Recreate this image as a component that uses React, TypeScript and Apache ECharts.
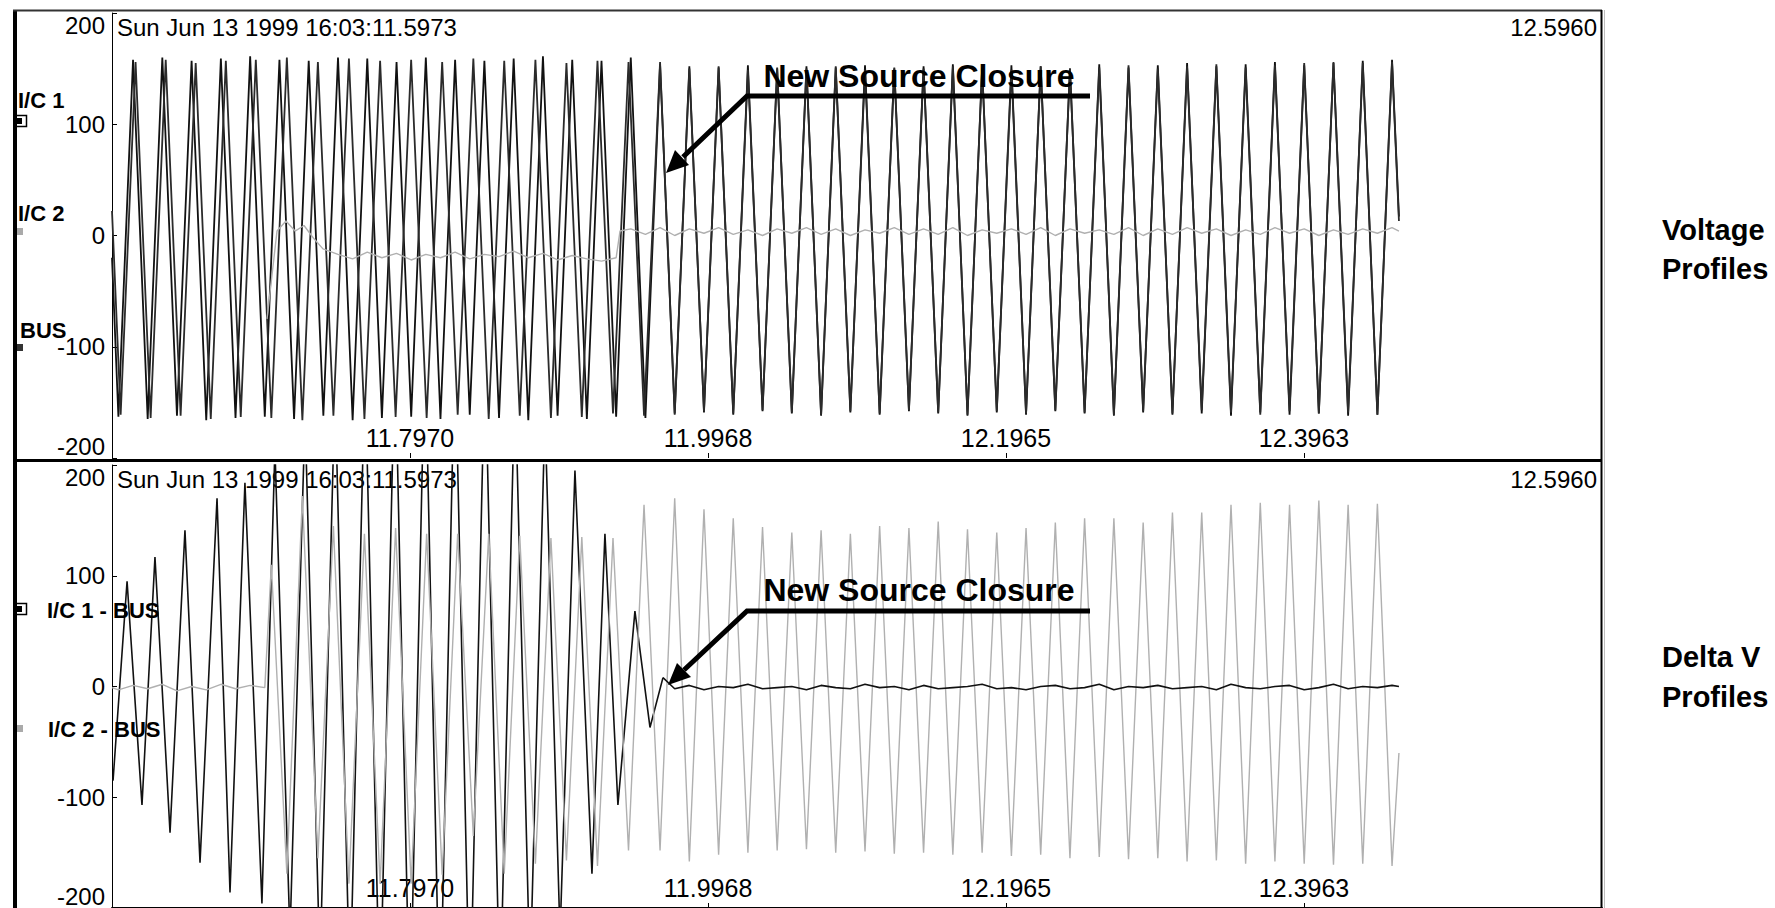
import React, { useEffect, useRef } from "react";
import * as echarts from "echarts";

// ---------- axis / labels ----------
const X_MIN = 11.5973;
const X_MAX = 12.596;
const END_TIME = 12.4599;
const xTickValues = [11.797, 11.9968, 12.1965, 12.3963];
const startStamp = "Sun Jun 13 1999 16:03:11.5973";
const endStamp = "12.5960";
const topLegend = ["I/C 1", "I/C 2", "BUS"];
const bottomLegend = ["I/C 1 - BUS", "I/C 2 - BUS"];
const annotation = "New Source Closure";

// ---------- sampled extrema ----------
// I/C 1 half-cycle extrema (trough first), regular source
const IC1_FIRST_EXTREMUM = 11.60159;
const IC1_HALF_PERIOD = 0.0098124;
const ic1Start = -20;
const ic1Values = [
  -163, 158, -165, 160, -162, 157, -166, 159, -164, 161, -163, 158, -165, 157, -162, 160, -166, 159, -164, 156,
  -163, 160, -165, 158, -161, 157, -164, 159, -166, 161, -162, 158, -165, 157, -163, 160, -164, 154, -160, 152,
  -159, 151, -161, 153, -158, 150, -160, 152, -162, 151, -159, 153, -161, 150, -158, 152, -160, 154, -162, 151,
  -159, 153, -161, 152, -158, 150, -160, 154, -162, 151, -159, 153, -161, 155, -160, 152, -162, 154, -159, 156,
  -161, 153, -160, 155, -162, 157, -161, 158,
];
const ic1End = 17;

// BUS before closure (slipping), extrema times
const busStart = 22;
const busPreTimes = [
  11.6031, 11.6131, 11.6232, 11.6333, 11.6433, 11.6534, 11.6635, 11.6736, 11.6836, 11.6937,
  11.7041, 11.7145, 11.7249, 11.7353, 11.7457, 11.7561, 11.7665, 11.777, 11.7874, 11.7978,
  11.8082, 11.8186, 11.829, 11.8395, 11.8498, 11.8602, 11.8706, 11.8811, 11.8915, 11.9019,
  11.9122, 11.9227, 11.9331, 11.9435, 11.9539,
];
const busPreValues = [
  -161, 156, -164, 158, -162, 155, -165, 157, -163, 158, -164, 160, -166, 156, -162, 159, -165, 157, -163, 158,
  -164, 156, -161, 159, -165, 157, -162, 158, -164, 155, -163, 157, -160, 156, -162,
];
// BUS after closure (locked to the I/C 1 extrema 37..87)
const busPostValues = [
  156, -161, 150, -158, 152, -160, 149, -157, 151, -159,
  150, -161, 152, -158, 149, -160, 151, -157, 150, -159,
  152, -161, 150, -158, 149, -160, 152, -157, 150, -159,
  151, -161, 153, -158, 150, -160, 152, -157, 154, -159,
  151, -161, 153, -158, 155, -160, 156, -159, 155, -161,
  156,
];
const busEnd = 13;

// I/C 2 (top panel) after it separates from the bus
const ic2SplitTimes = [11.7012, 11.7079, 11.7139, 11.72, 11.726, 11.7327, 11.7387];
const ic2SplitValues = [-75, 4, 13, 4, 9, -3, -12];
const ic2PreCloseValues = [-17, -21, -15, -20, -16, -22, -17, -20, -15, -21, -17, -19, -14, -20, -16, -22, -18, -21, -23, -20]; // extrema 15..34
const ic2JumpTime = 11.9378;
const ic2JumpValue = 4;
const ic2PostCloseValues = [
  6, 1, 7, 0, 6, 2, 7, 1, 5, 0,
  6, 2, 7, 1, 6, 0, 5, 2, 7, 1,
  6, 1, 7, 0, 5, 2, 6, 1, 7, 0,
  6, 2, 5, 1, 7, 0, 6, 1, 7, 2,
  6, 0, 5, 1, 7, 2, 6, 0, 5, 1,
  6, 2, 7,
]; // extrema 35..87
const ic2End = 4;

// I/C 1 - BUS (bottom panel)
const diff1PreTimes = [
  11.598, 11.6074, 11.6174, 11.6261, 11.6362, 11.6462, 11.6563, 11.6677, 11.6764, 11.6864,
  11.6978, 11.7065, 11.7166, 11.7267, 11.7367, 11.7468, 11.7568, 11.7669, 11.7769, 11.787,
  11.797, 11.8071, 11.8171, 11.8272, 11.8372, 11.8473, 11.8574, 11.8674, 11.8775, 11.8875,
  11.8976, 11.9076, 11.919, 11.9277, 11.9364, 11.9478, 11.9579, 11.9666,
];
const diff1PreValues = [
  -85, 95, -107, 117, -132, 141, -159, 170, -186, 184,
  -196, 215, -225, 245, -255, 270, -280, 290, -298, 305,
  -310, 312, -312, 310, -305, 300, -290, 280, -265, 245,
  -225, 195, -169, 138, -107, 68, -37, 8,
];
const diff1PostValues = [
  -2, 1, -3, 0, -1, 2, -2, -1, 0, -3,
  1, -1, -2, 2, -1, 0, -3, 1, -2, -1,
  0, 2, -2, -1, -3, 0, 1, -2, -1, 2,
  -3, 0, -1, 1, -2, -1, 0, -3, 2, -1,
  -2, 0, 1, -3, -1, 2, -2, 0, -1, 1,
]; // extrema 38..87
const diff1End = 0;

// I/C 2 - BUS (bottom panel)
const diff2Start = -1;
const diff2PreSplitValues = [-3, 1, -2, 2, -4, 0, -3, 2, -2, 1, -1]; // extrema 0..10
const diff2SplitValues = [
  110, -169, 172, -155, 145, -178, 138, -178, 143, -178,
  138, -170, 138, -135, 138, -169, 136, -160, 134, -157,
  135, -162, 134, -148, 164,
]; // bus times 10..34
const diff2PostValues = [
  -148, 170, -158, 160, -152, 152, -150, 144, -148, 139,
  -147, 141, -150, 138, -149, 145, -151, 143, -150, 149,
  -152, 142, -150, 139, -153, 143, -152, 148, -155, 152,
  -154, 152, -156, 148, -155, 157, -158, 157, -157, 164,
  -160, 166, -158, 164, -160, 168, -161, 164, -160, 165,
  -162,
]; // extrema 37..87
const diff2End = -60;

// ---------- helpers ----------
function gridTimes(from: number, to: number): number[] {
  const out: number[] = [];
  for (let i = from; i <= to; i++) out.push(IC1_FIRST_EXTREMUM + i * IC1_HALF_PERIOD);
  return out;
}
function zip(times: number[], values: number[]): number[][] {
  const n = Math.min(times.length, values.length);
  const out: number[][] = [];
  for (let i = 0; i < n; i++) out.push([times[i], values[i]]);
  return out;
}

const ic1Data = [[X_MIN, ic1Start], ...zip(gridTimes(0, 87), ic1Values), [END_TIME, ic1End]];
const busData = [
  [X_MIN, busStart],
  ...zip(busPreTimes, busPreValues),
  ...zip(gridTimes(37, 87), busPostValues),
  [END_TIME, busEnd],
];
const ic2Data = [
  ...zip(ic2SplitTimes, ic2SplitValues),
  ...zip(gridTimes(15, 34), ic2PreCloseValues),
  [ic2JumpTime, ic2JumpValue],
  ...zip(gridTimes(35, 87), ic2PostCloseValues),
  [END_TIME, ic2End],
];
const diff1PreData = zip(diff1PreTimes, diff1PreValues);
const diff1PostData = [
  diff1PreData[diff1PreData.length - 1],
  ...zip(gridTimes(38, 87), diff1PostValues),
  [END_TIME, diff1End],
];
const diff2Data = [
  [X_MIN, diff2Start],
  ...zip(gridTimes(0, 10), diff2PreSplitValues),
  ...zip(busPreTimes.slice(10), diff2SplitValues),
  ...zip(gridTimes(37, 87), diff2PostValues),
  [END_TIME, diff2End],
];

const FONT = '"Liberation Sans", Arial, sans-serif';
const BLACK = "#111111";
const DARK = "#2b2b2b";
const GRAY = "#b0b0b0";

function txt(text: string, x: number, y: number, size: number, bold: boolean, align = "left", z = 20) {
  return {
    type: "text", x, y, z, silent: true,
    style: { text, fill: "#000", fontSize: size, fontWeight: bold ? "bold" : "normal", fontFamily: FONT, align, verticalAlign: "middle" },
  };
}
function line(x1: number, y1: number, x2: number, y2: number, w: number, color = "#000", z = 30) {
  return { type: "line", z, silent: true, shape: { x1, y1, x2, y2 }, style: { stroke: color, lineWidth: w } };
}
function xAxisFor(gridIndex: number) {
  return {
    type: "value", gridIndex, min: X_MIN, max: X_MAX,
    axisLine: { show: gridIndex === 1, onZero: false, lineStyle: { color: "#000", width: 2 } },
    axisTick: { show: true, inside: true, length: 5, customValues: xTickValues, lineStyle: { color: "#000", width: 1 } },
    axisLabel: {
      show: true, inside: true, margin: 8, customValues: xTickValues,
      formatter: (v: number) => v.toFixed(4), fontSize: 25, fontFamily: FONT, color: "#000",
    },
    splitLine: { show: false },
  };
}
function yAxisFor(gridIndex: number) {
  return {
    type: "value", gridIndex, min: -200, max: 200, interval: 100,
    axisLine: { show: true, onZero: false, lineStyle: { color: "#000", width: 1 } },
    axisTick: { show: true, inside: true, length: 5, lineStyle: { color: "#000" } },
    axisLabel: {
      margin: 7, fontSize: 24, fontFamily: FONT, color: "#000",
      verticalAlignMaxLabel: "top", verticalAlignMinLabel: "bottom",
    },
    splitLine: { show: false },
  };
}
function wave(name: string, data: number[][], axis: number, color: string, z: number, width = 1.5) {
  return {
    name, type: "line", xAxisIndex: axis, yAxisIndex: axis, data,
    symbol: "none", showSymbol: false, silent: true, clip: true, z,
    lineStyle: { color, width },
  };
}

export default function App() {
  const ref = useRef<HTMLDivElement>(null);
  useEffect(() => {
    if (!ref.current) return;
    const chart = echarts.init(ref.current, undefined, { renderer: "svg" });
    const graphic: any[] = [
      // frame
      { type: "rect", z: 30, silent: true, shape: { x: 13, y: 10, width: 4, height: 898 }, style: { fill: "#000" } },
      line(13, 10.5, 1602, 10.5, 2, "#333"),
      line(1601.5, 10, 1601.5, 908, 2, "#000"),
      line(1604.5, 10, 1604.5, 908, 1, "#bdbdbd"),
      line(13, 460.5, 1602, 460.5, 3, "#000"),
      // time stamps
      txt(startStamp, 117, 27, 24, false, "left", 1),
      txt(endStamp, 1597, 27, 24, false, "right", 1),
      txt(startStamp, 117, 479, 24, false, "left", 1),
      txt(endStamp, 1597, 479, 24, false, "right", 1),
      // top legend
      txt(topLegend[0], 18, 100, 22, true),
      { type: "rect", z: 20, silent: true, shape: { x: 15.5, y: 115.5, width: 11, height: 11 }, style: { fill: "#fff", stroke: "#000", lineWidth: 1.5 } },
      { type: "rect", z: 21, silent: true, shape: { x: 16, y: 118, width: 6, height: 6 }, style: { fill: "#000" } },
      txt(topLegend[1], 18, 213, 22, true),
      { type: "rect", z: 20, silent: true, shape: { x: 16, y: 228, width: 7, height: 7 }, style: { fill: "#aaa" } },
      txt(topLegend[2], 20, 330, 22, true),
      { type: "rect", z: 20, silent: true, shape: { x: 16, y: 344, width: 7, height: 7 }, style: { fill: "#333" } },
      // bottom legend
      { type: "rect", z: 20, silent: true, shape: { x: 15.5, y: 603.5, width: 11, height: 11 }, style: { fill: "#fff", stroke: "#000", lineWidth: 1.5 } },
      { type: "rect", z: 21, silent: true, shape: { x: 16, y: 606, width: 6, height: 6 }, style: { fill: "#000" } },
      txt(bottomLegend[0], 47, 610, 22, true),
      { type: "rect", z: 20, silent: true, shape: { x: 16, y: 725, width: 7, height: 7 }, style: { fill: "#aaa" } },
      txt(bottomLegend[1], 48, 729, 22, true),
      // right titles
      txt("Voltage", 1662, 230, 29, true),
      txt("Profiles", 1662, 269, 29, true),
      txt("Delta V", 1662, 657, 29, true),
      txt("Profiles", 1662, 697, 29, true),
      // annotations
      txt(annotation, 919, 76, 32, true, "center", 40),
      { type: "polyline", z: 40, silent: true, shape: { points: [[1090, 96], [747, 96], [683, 157]] }, style: { stroke: "#000", lineWidth: 5, fill: null } },
      { type: "polygon", z: 40, silent: true, shape: { points: [[666, 173], [689, 165], [675, 150]] }, style: { fill: "#000" } },
      txt(annotation, 919, 590, 32, true, "center", 40),
      { type: "polyline", z: 40, silent: true, shape: { points: [[1090, 611], [747, 611], [684, 670]] }, style: { stroke: "#000", lineWidth: 5, fill: null } },
      { type: "polygon", z: 40, silent: true, shape: { points: [[668, 685], [691, 677], [677, 663]] }, style: { fill: "#000" } },
    ];

    chart.setOption({
      animation: false,
      backgroundColor: "#fff",
      grid: [
        { left: 112, top: 13, width: 1490, height: 445 },
        { left: 112, top: 465, width: 1490, height: 443 },
      ],
      xAxis: [xAxisFor(0), xAxisFor(1)],
      yAxis: [yAxisFor(0), yAxisFor(1)],
      series: [
        wave("I/C 1", ic1Data, 0, BLACK, 3, 1.8),
        wave("BUS", busData, 0, DARK, 3, 1.8),
        wave("I/C 2", ic2Data, 0, GRAY, 4, 1.4),
        wave("I/C 1 - BUS", diff1PreData, 1, BLACK, 3, 1.6),
        wave("I/C 2 - BUS", diff2Data, 1, GRAY, 4, 1.4),
        wave("I/C 1 - BUS", diff1PostData, 1, BLACK, 5, 1.6),
      ],
      graphic,
    });
    return () => chart.dispose();
  }, []);
  return (
    <div ref={ref} style={{ position: "fixed", left: 0, top: 0, width: "1775px", height: "908px", background: "#fff" }} />
  );
}
